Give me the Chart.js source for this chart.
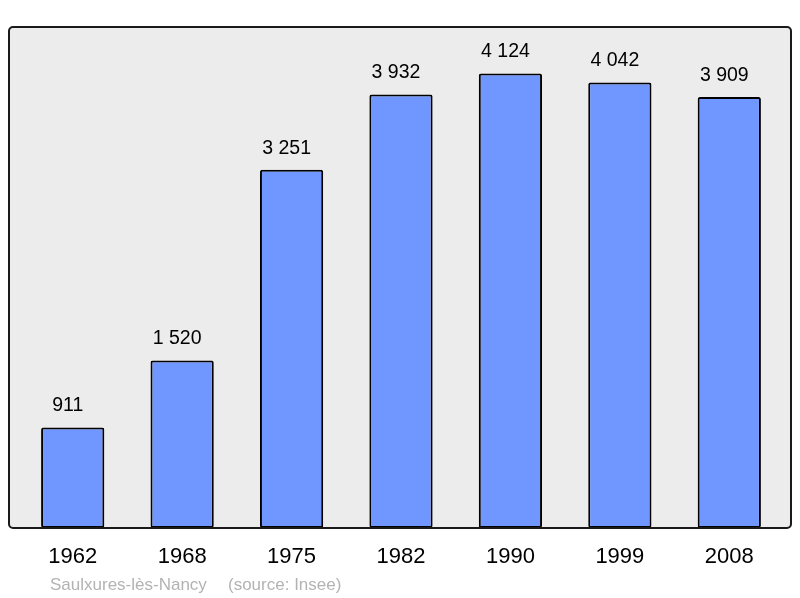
<!DOCTYPE html>
<html lang="fr">
<head>
  <meta charset="UTF-8">
  <title>Saulxures-lès-Nancy - population</title>
  <script src="https://cdn.jsdelivr.net/npm/chart.js"></script>
  <style>
    html, body { margin: 0; padding: 0; background: #ffffff; }
    canvas { display: block; }
  </style>
</head>
<body>
  <canvas id="graphique" width="800" height="598"></canvas>

  <script>
    // données
    const annees = ["1962", "1968", "1975", "1982", "1990", "1999", "2008"];
    const population = [911, 1520, 3251, 3932, 4124, 4042, 3909];
    const yMax = 4536;
    const commune = "Saulxures-lès-Nancy";
    const source = "(source: Insee)";

    const police = '"Liberation Sans", Arial, sans-serif';

    function formatNombre(n) {
      return String(n).replace(/\B(?=(\d{3})+(?!\d))/g, " ");
    }

    // fond gris + cadre + textes
    const cadre = {
      id: "cadre",
      beforeDraw(chart) {
        const ctx = chart.ctx;
        ctx.save();
        ctx.beginPath();
        ctx.roundRect(9, 27, 782, 501, 4);
        ctx.fillStyle = "#ececec";
        ctx.fill();
        ctx.restore();
      },
      afterDatasetsDraw(chart) {
        const ctx = chart.ctx;
        ctx.save();
        ctx.beginPath();
        ctx.roundRect(9, 27, 782, 501, 4);
        ctx.lineWidth = 2;
        ctx.strokeStyle = "#1a1a1a";
        ctx.stroke();
        ctx.restore();
      },
      afterDraw(chart) {
        const ctx = chart.ctx;
        const x = chart.scales.x;
        const y = chart.scales.y;
        ctx.save();
        ctx.textAlign = "center";
        ctx.textBaseline = "middle";

        // valeurs au-dessus des barres
        ctx.font = "19.5px " + police;
        ctx.fillStyle = "#000";
        population.forEach((v, i) => {
          ctx.fillText(formatNombre(v), x.getPixelForValue(i) - 5, y.getPixelForValue(v) - 21.5);
        });

        // années
        ctx.font = "22px " + police;
        annees.forEach((a, i) => {
          ctx.fillText(a, x.getPixelForValue(i), 557);
        });

        // source
        ctx.textAlign = "left";
        ctx.font = "17px " + police;
        ctx.fillStyle = "#b3b3b3";
        ctx.fillText(commune, 50, 585);
        ctx.fillText(source, 228, 585);
        ctx.restore();
      }
    };

    new Chart(document.getElementById("graphique"), {
      type: "bar",
      data: {
        labels: annees,
        datasets: [{
          data: population,
          backgroundColor: "#7096ff",
          borderColor: "#000000",
          borderWidth: 2,
          borderRadius: 2,
          borderSkipped: false,
          barPercentage: 0.578,
          categoryPercentage: 1
        }]
      },
      options: {
        responsive: false,
        animation: false,
        layout: { padding: { left: 18, right: 16, top: 28, bottom: 70 } },
        plugins: {
          legend: { display: false },
          tooltip: { enabled: false }
        },
        scales: {
          x: { display: false },
          y: { display: false, min: 0, max: yMax }
        }
      },
      plugins: [cadre]
    });
  </script>
</body>
</html>
